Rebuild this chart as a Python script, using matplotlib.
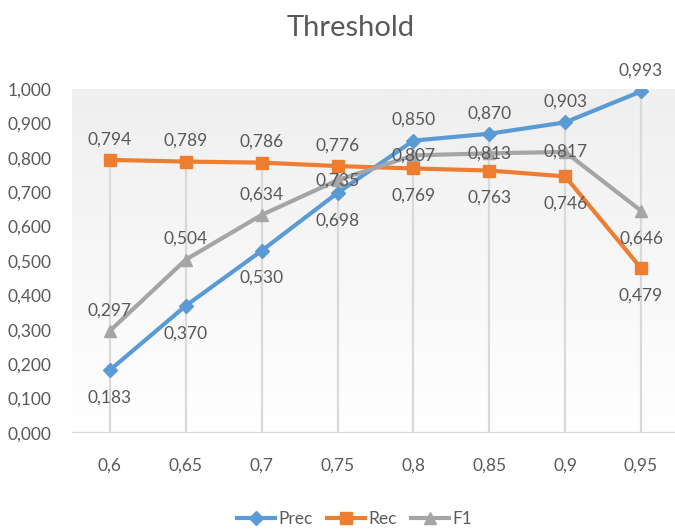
import numpy as np
import matplotlib
matplotlib.use("Agg")
import matplotlib.pyplot as plt
from matplotlib.lines import Line2D

plt.rcParams['font.family'] = ['Lato', 'DejaVu Sans']

thresholds = ["0,6", "0,65", "0,7", "0,75", "0,8", "0,85", "0,9", "0,95"]
prec = [0.183, 0.370, 0.530, 0.698, 0.850, 0.870, 0.903, 0.993]
rec = [0.794, 0.789, 0.786, 0.776, 0.769, 0.763, 0.746, 0.479]
f1 = [0.297, 0.504, 0.634, 0.735, 0.807, 0.813, 0.817, 0.646]

# label placement per point: a = above, b = below, c = centred on the point
prec_pos = ["b", "b", "b", "b", "a", "a", "a", "a"]
rec_pos = ["a", "a", "a", "a", "b", "b", "b", "b"]
f1_pos = ["a", "a", "a", "c", "c", "c", "c", "b"]

TEXT = "#595959"
FS = 12.5
series = [
    ("Prec", prec, prec_pos, "#5b9bd5", "D", 7),
    ("Rec", rec, rec_pos, "#ed7d31", "s", 9),
    ("F1", f1, f1_pos, "#a5a5a5", "^", 9),
]

fig = plt.figure(figsize=(6.75, 5.32), dpi=100)
ax = fig.add_axes([72 / 675, (532 - 433) / 532, (679 - 72) / 675, (433 - 89) / 532])
n = len(thresholds)
x = np.arange(n)
ax.set_xlim(-0.5, n - 0.5)
ax.set_ylim(0, 1.0)

# soft vertical gradient in the plot area
grad = np.linspace(1.0, 0.0, 256).reshape(-1, 1)
ax.imshow(grad, extent=(-0.5, n - 0.5, 0, 1.0), aspect="auto",
          cmap=matplotlib.colors.LinearSegmentedColormap.from_list(
              "bg", ["#ffffff", "#efefef"]), vmin=0, vmax=1, zorder=0)

# drop lines from the highest value down to the axis
tops = np.max(np.vstack([prec, rec, f1]), axis=0)
ax.vlines(x, 0, tops, color="#d9d9d9", lw=1.6, zorder=1)
ax.axhline(0, color="#d9d9d9", lw=1.6, zorder=1)

for name, vals, pos, col, mk, ms in series:
    ax.plot(x, vals, color=col, lw=3.0, marker=mk, ms=ms, zorder=3,
            solid_capstyle="round", label=name)
    for xi, v, p in zip(x, vals, pos):
        txt = f"{v:.3f}".replace(".", ",")
        if p == "a":
            off, va = 9, "bottom"
        elif p == "b":
            off, va = -14, "top"
        else:
            off, va = 0, "center"
        ax.annotate(txt, (xi, v), xytext=(0, off), textcoords="offset points",
                    ha="center", va=va, fontsize=FS, color=TEXT, zorder=4)

ax.set_xticks(x)
ax.set_xticklabels(thresholds)
yt = np.round(np.arange(0, 1.0001, 0.1), 1)
ax.set_yticks(yt)
ax.set_yticklabels([f"{v:.3f}".replace(".", ",") for v in yt])
ax.tick_params(length=0, labelsize=FS, labelcolor=TEXT)
ax.tick_params(axis="x", pad=18)
ax.tick_params(axis="y", pad=15)
for s in ax.spines.values():
    s.set_visible(False)

fig.text(0.52, 0.947, "Threshold", ha="center", va="center", fontsize=21, color=TEXT)

handles = [Line2D([0], [0], color=c, lw=3.0, marker=m, ms=ms) for _, _, _, c, m, ms in series]
fig.legend(handles, [s[0] for s in series], loc="center", bbox_to_anchor=(0.525, 0.025),
           ncol=3, frameon=False, fontsize=FS, labelcolor=TEXT,
           handlelength=2.2, handletextpad=0.2, columnspacing=0.8)

fig.savefig("out.png", dpi=100)
